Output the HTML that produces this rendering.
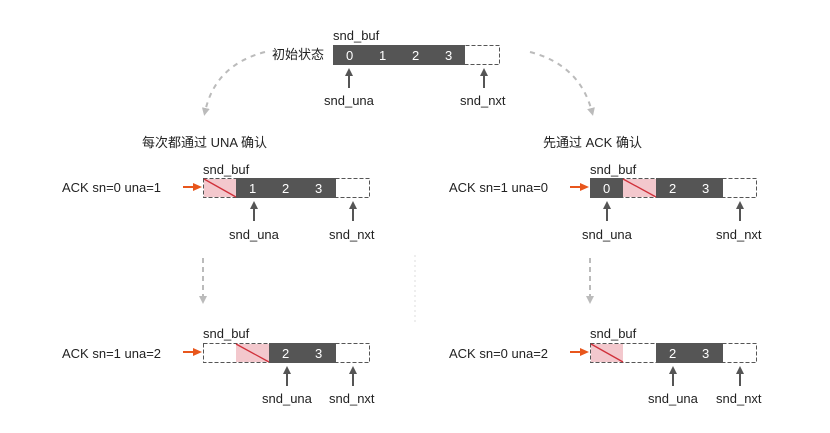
<!DOCTYPE html>
<html><head><meta charset="utf-8"><style>
body{margin:0;background:#fff}
svg{display:block}
text{font-family:"Liberation Sans","Noto Sans CJK SC",sans-serif;font-size:13px;fill:#222}
.w{fill:#fff;font-size:13px}
</style></head><body>
<svg width="830" height="433" viewBox="0 0 830 433" xmlns="http://www.w3.org/2000/svg">
<defs>
<marker id="ag" markerWidth="8" markerHeight="8" refX="4" refY="4" orient="auto" markerUnits="userSpaceOnUse"><path d="M0,0 L8,4 L0,8 z" fill="#555"/></marker>
<marker id="al" markerWidth="8" markerHeight="8" refX="4" refY="4" orient="auto" markerUnits="userSpaceOnUse"><path d="M0,0 L8,4 L0,8 z" fill="#bbb"/></marker>
<marker id="ao" markerWidth="9" markerHeight="8" refX="5" refY="4" orient="auto" markerUnits="userSpaceOnUse"><path d="M0,0 L9,4 L0,8 z" fill="#e8561c"/></marker>
</defs>

<!-- top -->
<text x="333" y="40">snd_buf</text>
<text x="272" y="59">初始状态</text>
<rect x="333.5" y="45.5" width="166" height="19" fill="#fff" stroke="#555" stroke-dasharray="4,2"/>
<rect x="333" y="45" width="132" height="20" fill="#555"/>
<text class="w" x="346" y="60">0</text><text class="w" x="379" y="60">1</text><text class="w" x="412" y="60">2</text><text class="w" x="445" y="60">3</text>
<line x1="349" y1="88" x2="349" y2="72" stroke="#555" stroke-width="2" marker-end="url(#ag)"/>
<line x1="484" y1="88" x2="484" y2="72" stroke="#555" stroke-width="2" marker-end="url(#ag)"/>
<text x="324" y="105">snd_una</text><text x="460" y="105">snd_nxt</text>
<path d="M265,52 Q215,65 205,112" fill="none" stroke="#bbb" stroke-width="2" stroke-dasharray="5,5" marker-end="url(#al)"/>
<path d="M530,52 Q580,65 592,112" fill="none" stroke="#bbb" stroke-width="2" stroke-dasharray="5,5" marker-end="url(#al)"/>
<text x="142" y="147">每次都通过 UNA 确认</text>
<text x="543" y="147">先通过 ACK 确认</text>

<!-- left mid -->
<text x="203" y="174">snd_buf</text>
<text x="62" y="192">ACK sn=0 una=1</text>
<line x1="183" y1="187" x2="198" y2="187" stroke="#e8561c" stroke-width="2" marker-end="url(#ao)"/>
<rect x="203.5" y="178.5" width="166" height="19" fill="#fff" stroke="#555" stroke-dasharray="4,2"/>
<rect x="204" y="179" width="32" height="18" fill="#f3c8cd"/>
<line x1="204" y1="179" x2="236" y2="197" stroke="#d0303a" stroke-width="1.3"/>
<rect x="236" y="178" width="100" height="20" fill="#555"/>
<text class="w" x="249" y="193">1</text><text class="w" x="282" y="193">2</text><text class="w" x="315" y="193">3</text>
<line x1="254" y1="221" x2="254" y2="205" stroke="#555" stroke-width="2" marker-end="url(#ag)"/>
<line x1="353" y1="221" x2="353" y2="205" stroke="#555" stroke-width="2" marker-end="url(#ag)"/>
<text x="229" y="239">snd_una</text><text x="329" y="239">snd_nxt</text>
<line x1="203" y1="258" x2="203" y2="300" stroke="#bbb" stroke-width="2" stroke-dasharray="5,4" marker-end="url(#al)"/>

<!-- left bottom -->
<text x="203" y="338">snd_buf</text>
<text x="62" y="358">ACK sn=1 una=2</text>
<line x1="183" y1="352" x2="198" y2="352" stroke="#e8561c" stroke-width="2" marker-end="url(#ao)"/>
<rect x="203.5" y="343.5" width="166" height="19" fill="#fff" stroke="#555" stroke-dasharray="4,2"/>
<rect x="236" y="344" width="33" height="18" fill="#f3c8cd"/>
<line x1="236" y1="344" x2="269" y2="362" stroke="#d0303a" stroke-width="1.3"/>
<rect x="269" y="343" width="67" height="20" fill="#555"/>
<text class="w" x="282" y="358">2</text><text class="w" x="315" y="358">3</text>
<line x1="287" y1="386" x2="287" y2="370" stroke="#555" stroke-width="2" marker-end="url(#ag)"/>
<line x1="353" y1="386" x2="353" y2="370" stroke="#555" stroke-width="2" marker-end="url(#ag)"/>
<text x="262" y="403">snd_una</text><text x="329" y="403">snd_nxt</text>

<line x1="415" y1="255" x2="415" y2="325" stroke="#ddd" stroke-width="1" stroke-dasharray="2,3"/>

<!-- right mid -->
<text x="590" y="174">snd_buf</text>
<text x="449" y="192">ACK sn=1 una=0</text>
<line x1="570" y1="187" x2="585" y2="187" stroke="#e8561c" stroke-width="2" marker-end="url(#ao)"/>
<rect x="590.5" y="178.5" width="166" height="19" fill="#fff" stroke="#555" stroke-dasharray="4,2"/>
<rect x="590" y="178" width="33" height="20" fill="#555"/>
<rect x="623" y="179" width="33" height="18" fill="#f3c8cd"/>
<line x1="623" y1="179" x2="656" y2="197" stroke="#d0303a" stroke-width="1.3"/>
<rect x="656" y="178" width="67" height="20" fill="#555"/>
<text class="w" x="603" y="193">0</text><text class="w" x="669" y="193">2</text><text class="w" x="702" y="193">3</text>
<line x1="607" y1="221" x2="607" y2="205" stroke="#555" stroke-width="2" marker-end="url(#ag)"/>
<line x1="740" y1="221" x2="740" y2="205" stroke="#555" stroke-width="2" marker-end="url(#ag)"/>
<text x="582" y="239">snd_una</text><text x="716" y="239">snd_nxt</text>
<line x1="590" y1="258" x2="590" y2="300" stroke="#bbb" stroke-width="2" stroke-dasharray="5,4" marker-end="url(#al)"/>

<!-- right bottom -->
<text x="590" y="338">snd_buf</text>
<text x="449" y="358">ACK sn=0 una=2</text>
<line x1="570" y1="352" x2="585" y2="352" stroke="#e8561c" stroke-width="2" marker-end="url(#ao)"/>
<rect x="590.5" y="343.5" width="166" height="19" fill="#fff" stroke="#555" stroke-dasharray="4,2"/>
<rect x="591" y="344" width="32" height="18" fill="#f3c8cd"/>
<line x1="591" y1="344" x2="623" y2="362" stroke="#d0303a" stroke-width="1.3"/>
<rect x="656" y="343" width="67" height="20" fill="#555"/>
<text class="w" x="669" y="358">2</text><text class="w" x="702" y="358">3</text>
<line x1="673" y1="386" x2="673" y2="370" stroke="#555" stroke-width="2" marker-end="url(#ag)"/>
<line x1="740" y1="386" x2="740" y2="370" stroke="#555" stroke-width="2" marker-end="url(#ag)"/>
<text x="648" y="403">snd_una</text><text x="716" y="403">snd_nxt</text>
</svg>
</body></html>
